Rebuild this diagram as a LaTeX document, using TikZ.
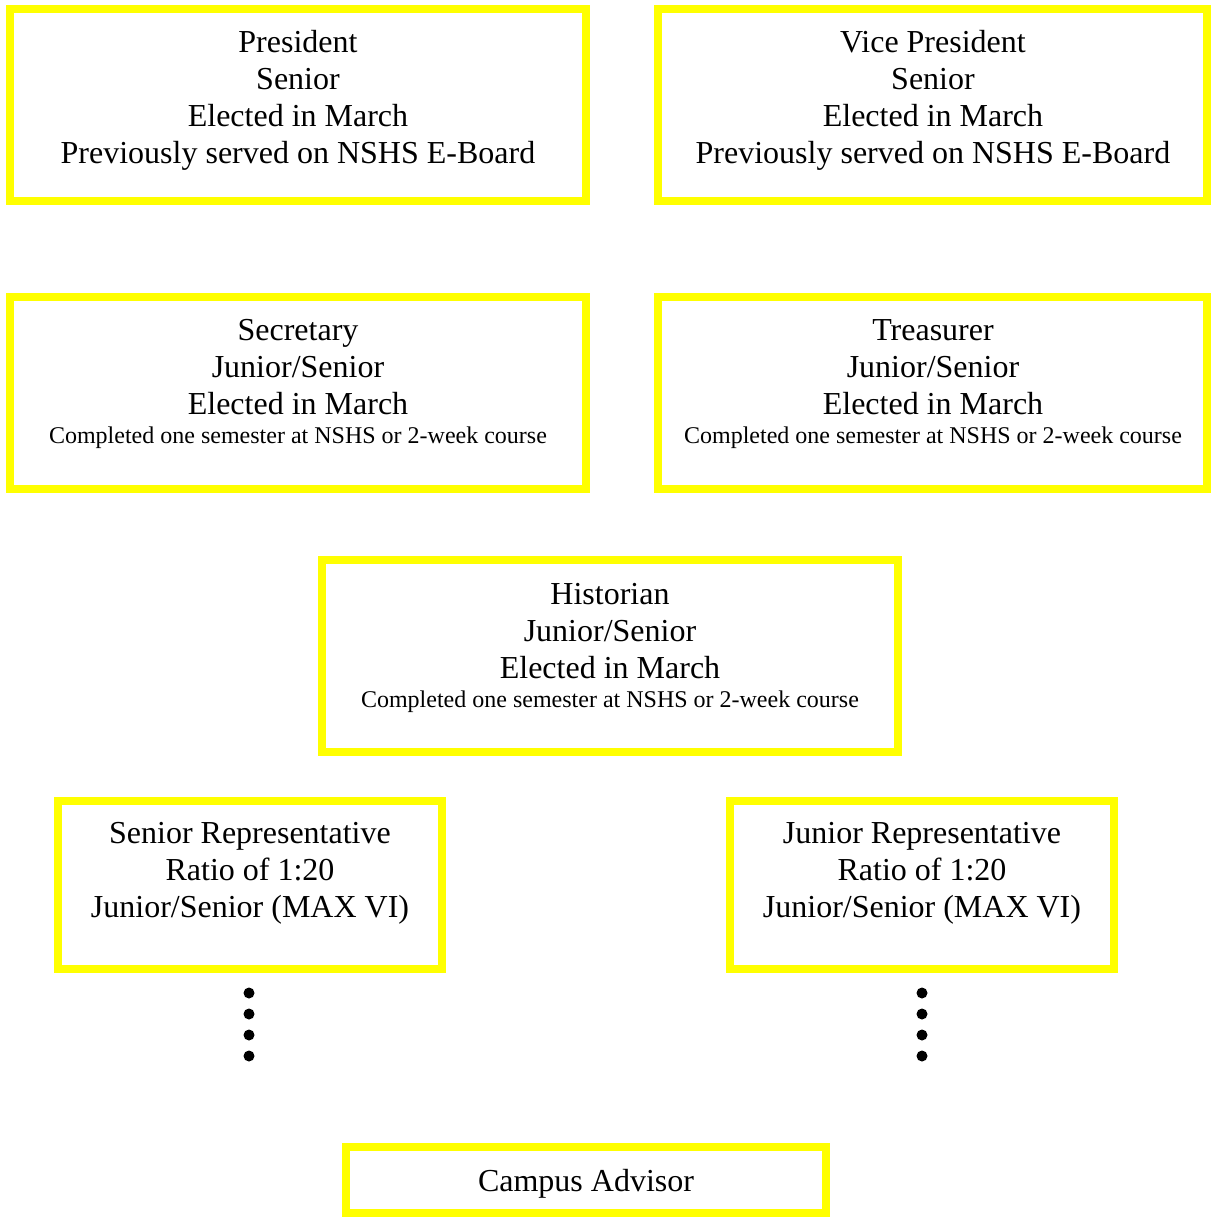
\documentclass[tikz,border=0pt]{standalone}
\usepackage{fontspec}
\setmainfont{Liberation Serif}
\definecolor{ylw}{RGB}{255,255,0}
\begin{document}
\begin{tikzpicture}[x=1pt,y=-1pt,
  box/.style={draw=ylw,line width=8pt,rectangle,inner sep=0pt,outer sep=0pt},
  txt/.style={align=center,inner sep=0pt,font=\fontsize{32}{37}\selectfont},
  dot/.style={circle,fill=black,inner sep=0pt,minimum size=11pt}]
\useasboundingbox (0,0) rectangle (1211,1218);
% boxes
\node[box,minimum width=576pt,minimum height=192pt] (pres) at (298,105) {};
\node[box,minimum width=549pt,minimum height=192pt] (vp) at (932.5,105) {};
\node[box,minimum width=576pt,minimum height=192pt] (sec) at (298,393) {};
\node[box,minimum width=549pt,minimum height=192pt] (tre) at (932.5,393) {};
\node[box,minimum width=576pt,minimum height=192pt] (hist) at (610,656) {};
\node[box,minimum width=384pt,minimum height=168pt] (srep) at (250,885) {};
\node[box,minimum width=384pt,minimum height=168pt] (jrep) at (922,885) {};
\node[box,minimum width=480pt,minimum height=66pt] (camp) at (586,1180) {};
% texts
\node[txt] (presT) at (298,100.5) {President\\Senior\\Elected in March\\Previously served on NSHS E-Board};
\node[txt] (vpT) at (933,100.5) {Vice President\\Senior\\Elected in March\\Previously served on NSHS E-Board};
\node[txt] (secT) at (298,384) {Secretary\\Junior/Senior\\Elected in March\\[-8pt]{\fontsize{24}{30}\selectfont Completed one semester at NSHS or 2-week course}};
\node[txt] (treT) at (933,384.5) {Treasurer\\Junior/Senior\\Elected in March\\[-8pt]{\fontsize{24}{30}\selectfont Completed one semester at NSHS or 2-week course}};
\node[txt] (histT) at (610,648) {Historian\\Junior/Senior\\Elected in March\\[-8pt]{\fontsize{24}{30}\selectfont Completed one semester at NSHS or 2-week course}};
\node[txt] (srepT) at (250,873.5) {Senior Representative\\Ratio of 1:20\\Junior/Senior (MAX VI)};
\node[txt] (jrepT) at (922,873.5) {Junior Representative\\Ratio of 1:20\\Junior/Senior (MAX VI)};
\node[txt] (campT) at (586,1184) {Campus Advisor};
% dots
\foreach \i/\yy in {1/993,2/1014,3/1035,4/1056}{
  \node[dot] (sd\i) at (249,\yy) {};
  \node[dot] (jd\i) at (922,\yy) {};
}
\end{tikzpicture}
\end{document}
